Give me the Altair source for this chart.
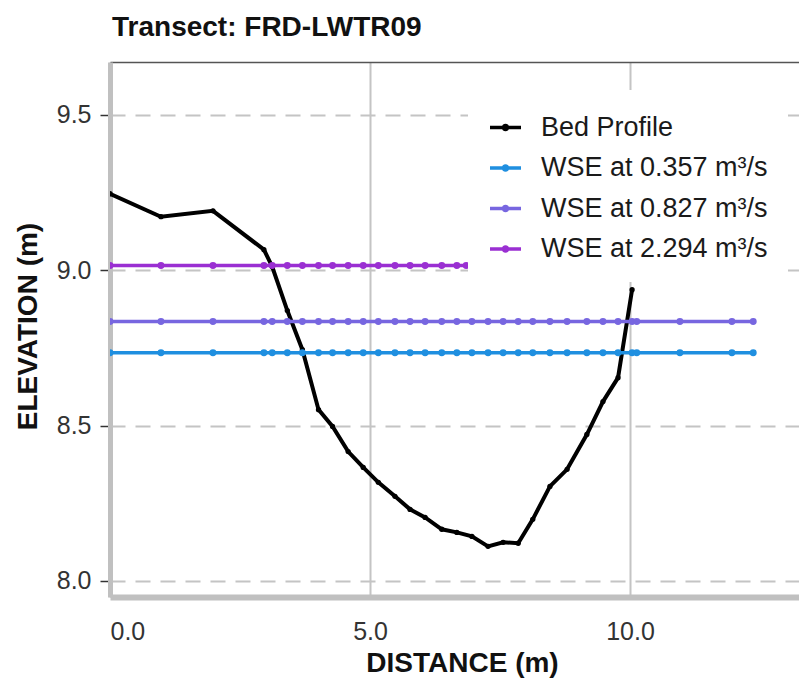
import altair as alt
import pandas as pd

FONT = "Liberation Sans"

# Bed profile stations (distance, elevation)
bed_x = [0.0, 0.98, 1.98, 2.96, 3.12, 3.41, 3.70, 4.01, 4.28, 4.58, 4.87, 5.16, 5.48, 5.77,
         6.06, 6.38, 6.67, 6.96, 7.27, 7.56, 7.85, 8.13, 8.46, 8.79, 9.17, 9.48, 9.77, 10.04]
bed_y = [9.246, 9.172, 9.191, 9.066, 9.011, 8.870, 8.744, 8.551, 8.497, 8.416, 8.365, 8.317,
         8.272, 8.230, 8.204, 8.166, 8.156, 8.143, 8.111, 8.124, 8.121, 8.198, 8.304, 8.359,
         8.471, 8.577, 8.654, 8.937]

# Water surface elevations
wse_extra_x = [10.13, 10.96, 11.96, 12.37]
wse_names = ["WSE at 0.357 m³/s", "WSE at 0.827 m³/s", "WSE at 2.294 m³/s"]
wse_levels = [8.734, 8.835, 9.015]
wse_last_x = [12.37, 12.37, 6.85]

series_names = ["Bed Profile"] + wse_names
series_colors = ["#000000", "#1F8FE0", "#7766E0", "#9A2FD2"]

x_ticks = [0, 5, 10]
y_ticks = [8.0, 8.5, 9.0, 9.5]

rows = []
for xv, yv in zip(bed_x, bed_y):
    rows.append({"series": "Bed Profile", "distance": xv, "elev": yv})
for name, lvl, last in zip(wse_names, wse_levels, wse_last_x):
    xs = [v for v in bed_x + wse_extra_x if v <= last]
    if last not in xs:
        xs.append(last)
    for xv in xs:
        rows.append({"series": name, "distance": xv, "elev": lvl})
df = pd.DataFrame(rows)

xscale = alt.Scale(domain=[0, 13.25], nice=False, zero=False)
yscale = alt.Scale(domain=[7.948, 9.670], nice=False, zero=False)

SYMBOL = "M-1,0L1,0M-0.13,0A0.13,0.13,0,1,1,0.13,0A0.13,0.13,0,1,1,-0.13,0Z"

color = alt.Color(
    "series:N",
    scale=alt.Scale(domain=series_names, range=series_colors),
    legend=alt.Legend(
        title=None, orient="none", legendX=358, legendY=28,
        fillColor="white", padding=20,
        labelFontSize=27, labelFont=FONT, labelColor="#1a1a1a", labelLimit=400,
        symbolType=SYMBOL, symbolSize=961, symbolStrokeWidth=3.5,
        labelOffset=18, rowPadding=9.5,
    ),
)

x_bottom = alt.X(
    "distance:Q", scale=xscale,
    axis=alt.Axis(
        values=x_ticks, format=".1f", title="DISTANCE (m)",
        ticks=False, tickSize=0, labelPadding=22,
        labelFontSize=25, labelFont=FONT, labelColor="#333333",
        titleFontSize=28, titleFont=FONT, titleFontWeight="bold", titleColor="#111111",
        titleX=352, titleY=66, titleBaseline="middle", titleAlign="center",
        grid=True, gridColor="#c4c4c4", gridWidth=2,
        domainColor="#c0c0c0", domainWidth=6,
    ),
)
x_top = alt.X(
    "distance:Q", scale=xscale,
    axis=alt.Axis(
        orient="top", labels=False, ticks=False, grid=False, title=None,
        domainColor="#555555", domainWidth=1.5,
    ),
)
y_enc = alt.Y(
    "elev:Q", scale=yscale,
    axis=alt.Axis(
        values=y_ticks, format=".1f", title="ELEVATION (m)",
        tickSize=10, tickColor="#333333", tickWidth=1.5, labelPadding=9,
        labelFontSize=25, labelFont=FONT, labelColor="#333333",
        titleFontSize=28, titleFont=FONT, titleFontWeight="bold", titleColor="#111111",
        titleX=-82, titleY=264, titleBaseline="middle", titleAlign="center", titleAngle=-90,
        grid=True, gridColor="#c4c4c4", gridWidth=2, gridDash=[15, 10],
        domainColor="#c0c0c0", domainWidth=5,
    ),
)

is_bed = alt.datum.series == "Bed Profile"

bed_line = alt.Chart(df).transform_filter(is_bed).mark_line(strokeWidth=4, clip=True).encode(
    x=x_bottom, y=y_enc, color=color
)
bed_pts = alt.Chart(df).transform_filter(is_bed).mark_point(
    filled=True, size=28, shape="circle", opacity=1, clip=True
).encode(x=x_top, y=y_enc, color=color)
wse_line = alt.Chart(df).transform_filter(~is_bed).mark_line(strokeWidth=3.5, clip=True).encode(
    x=alt.X("distance:Q", scale=xscale, axis=None), y=y_enc, color=color, detail="series:N"
)
wse_pts = alt.Chart(df).transform_filter(~is_bed).mark_point(
    filled=True, size=48, shape="circle", opacity=1, clip=True
).encode(x=alt.X("distance:Q", scale=xscale, axis=None), y=y_enc, color=color)

chart = (
    alt.layer(bed_line, bed_pts, wse_line, wse_pts)
    .resolve_axis(x="independent")
    .properties(
        width=689, height=535,
        padding={"left": 102, "top": 54, "right": 0, "bottom": 85},
        autosize=alt.AutoSizeParams(type="none"),
        title=alt.TitleParams(
            "Transect: FRD-LWTR09", anchor="start", frame="group", fontSize=28, font=FONT,
            fontWeight="bold", color="#111111", offset=24, baseline="alphabetic",
            dx=2, dy=26,
        ),
    )
    .configure_view(stroke=None)
    .configure(background="white")
)

chart.save("out.html", embed_options={"renderer": "svg", "actions": False})
